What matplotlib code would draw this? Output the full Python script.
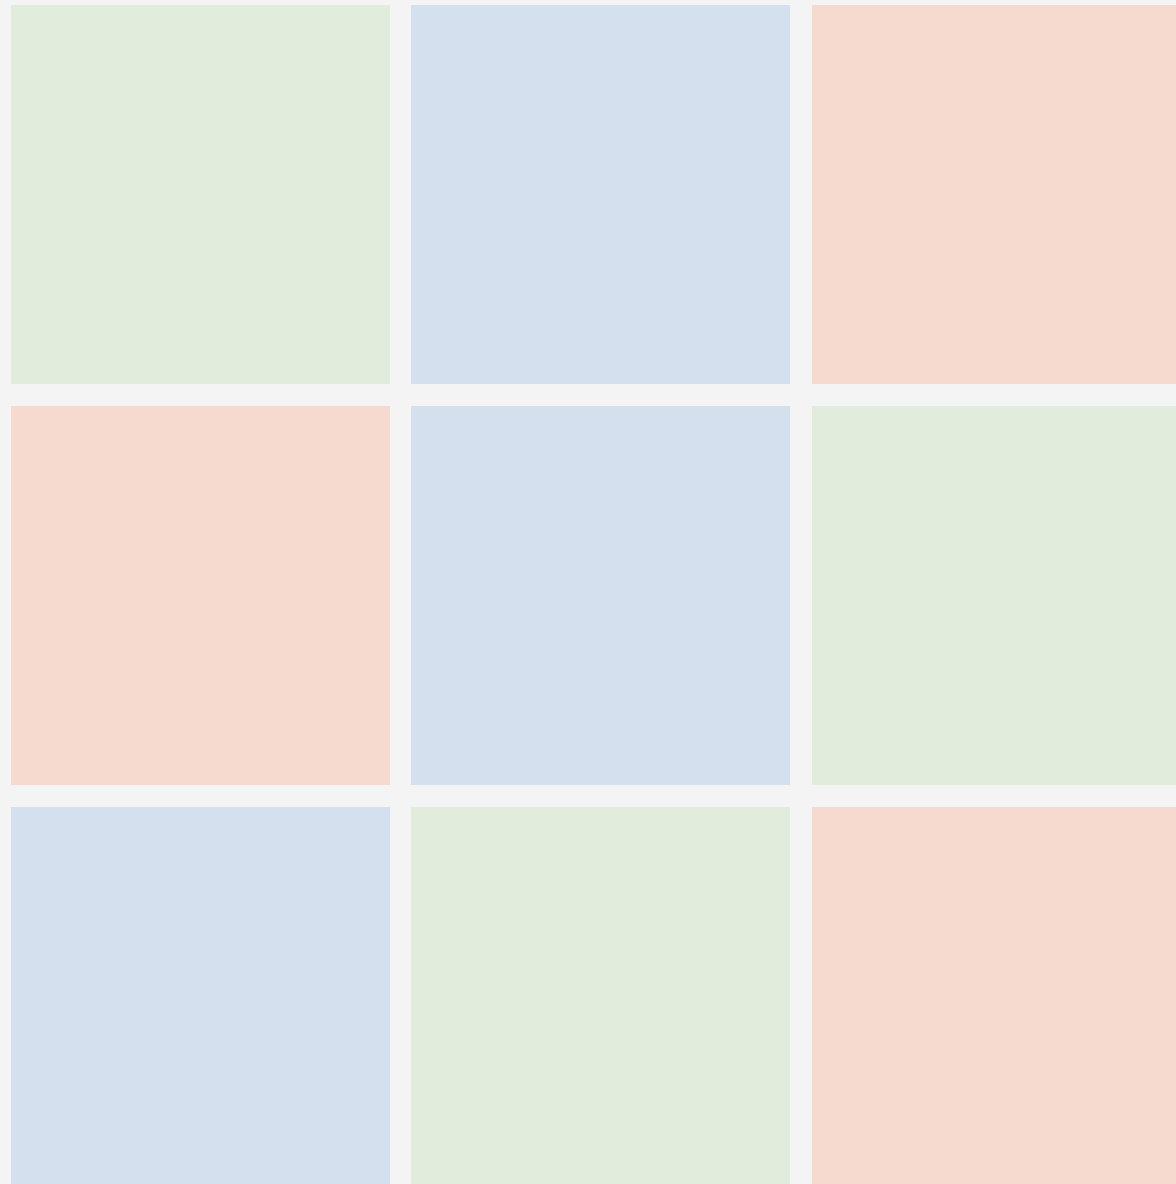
import matplotlib
matplotlib.use('Agg')
import matplotlib.pyplot as plt
from matplotlib.patches import Rectangle

## tile colours, row by row from the top
GREEN = '#e1ecdc'
BLUE = '#d4e0ed'
RED = '#f6dacf'
BACKGROUND = '#f4f4f4'

rows = [
    [GREEN, BLUE, RED],
    [RED, BLUE, GREEN],
    [BLUE, GREEN, RED],
]

W, H = 1176, 1184
col_starts = [11, 411, 812]   # left edge of each tile column, pixels
row_starts = [5, 406, 807]    # top edge of each tile row, pixels
size = 379                    # tile side

fig = plt.figure(figsize=(W / 100, H / 100), dpi=100, facecolor=BACKGROUND)
ax = fig.add_axes([0, 0, 1, 1])
ax.set_xlim(0, W)
ax.set_ylim(H, 0)
ax.set_facecolor(BACKGROUND)
ax.axis('off')

for ri, row in enumerate(rows):
    for ci, col in enumerate(row):
        ax.add_patch(Rectangle((col_starts[ci], row_starts[ri]), size, size,
                               facecolor=col, edgecolor='none'))

fig.savefig('out.png', dpi=100, facecolor=BACKGROUND)
